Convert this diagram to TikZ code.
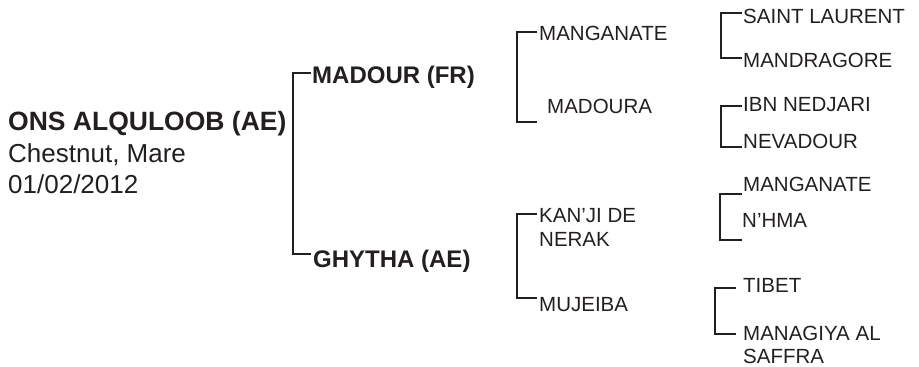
\documentclass[tikz,border=0pt]{standalone}
\usepackage{fontspec}
\setmainfont{Liberation Sans}
\definecolor{ink}{HTML}{231F20}
\begin{document}
\begin{tikzpicture}[x=1pt,y=-1pt,
	horse/.style={anchor=base west,inner sep=0pt,text=ink,font=\fontsize{20.5}{24}\selectfont},
	sire/.style={horse,font=\fontsize{24}{28}\selectfont\bfseries},
	bracket/.style={draw=ink,line width=2pt},
	thick bracket/.style={draw=ink,line width=2.6pt}]
		\useasboundingbox (0,0) rectangle (919,367);
		% subject
		\node[horse,font=\fontsize{26.5}{31}\selectfont\bfseries] (subj) at (8,130) {ONS ALQULOOB (AE)};
		\node[horse,font=\fontsize{26}{31}\selectfont] (colour) at (8,162) {Chestnut, Mare};
		\node[horse,font=\fontsize{26}{31}\selectfont] (dob) at (8,193) {01/02/2012};
		% parents
		\node[sire] (madour) at (312,83) {MADOUR (FR)};
		\node[sire] (ghytha) at (313,267) {GHYTHA (AE)};
		\coordinate (p1) at (311,73);
		\coordinate (p2) at (311,254);
		\coordinate (pv) at (293,73);
		\draw[thick bracket] (p1) -- (pv) |- (p2);
		% grandparents
		\node[horse] (manganate) at (539,40) {MANGANATE};
		\node[horse] (madoura) at (547,113) {MADOURA};
		\node[horse] (kanji) at (539,222) {KAN'JI DE};
		\node[horse] (nerak) at (539,246) {NERAK};
		\node[horse] (mujeiba) at (539,311) {MUJEIBA};
		\coordinate (g1) at (537,32);
		\coordinate (g2) at (537,122);
		\coordinate (gv) at (517,32);
		\draw[bracket] (g1) -- (gv) |- (g2);
		\coordinate (g3) at (537,214);
		\coordinate (g4) at (537,298);
		\coordinate (gw) at (517,214);
		\draw[bracket] (g3) -- (gw) |- (g4);
		% great-grandparents
		\node[horse] (saint) at (743,23) {SAINT LAURENT};
		\node[horse] (mandragore) at (743,67) {MANDRAGORE};
		\node[horse] (ibn) at (743,111) {IBN NEDJARI};
		\node[horse] (nevadour) at (743,148) {NEVADOUR};
		\node[horse] (manganate2) at (743,191) {MANGANATE};
		\node[horse] (nhma) at (742,227) {N'HMA};
		\node[horse] (tibet) at (743,292) {TIBET};
		\node[horse] (managiya) at (743,340) {MANAGIYA AL};
		\node[horse] (saffra) at (743,363) {SAFFRA};
		\coordinate (e1) at (742,13);
		\coordinate (e2) at (742,58);
		\coordinate (ev1) at (721,13);
		\draw[bracket] (e1) -- (ev1) |- (e2);
		\coordinate (e3) at (742,106);
		\coordinate (e4) at (742,147);
		\coordinate (ev2) at (721,106);
		\draw[bracket] (e3) -- (ev2) |- (e4);
		\coordinate (e5) at (742,194);
		\coordinate (e6) at (742,240);
		\coordinate (ev3) at (720,194);
		\draw[bracket] (e5) -- (ev3) |- (e6);
		\coordinate (e7) at (736,288);
		\coordinate (e8) at (736,334);
		\coordinate (ev4) at (715,288);
		\draw[bracket] (e7) -- (ev4) |- (e8);
	\end{tikzpicture}
\end{document}
